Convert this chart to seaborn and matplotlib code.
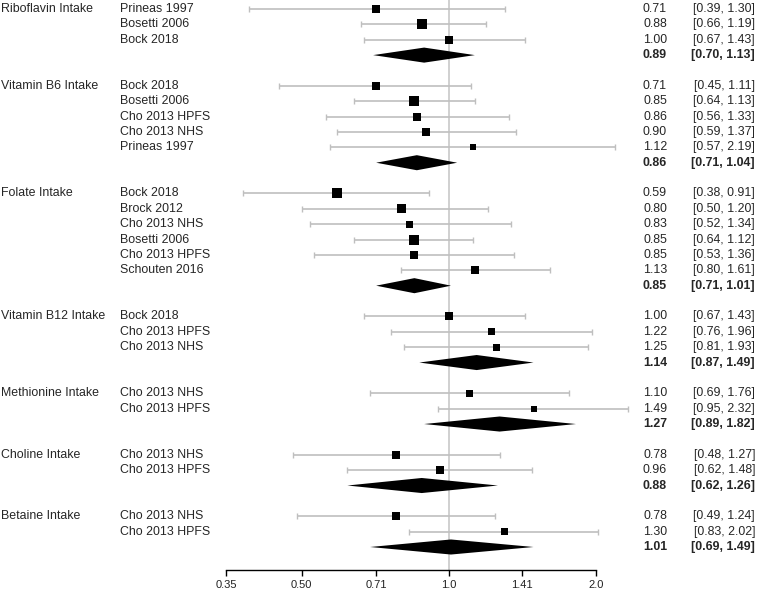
#!/usr/bin/env python3
"""Forest plot of B-vitamin / one-carbon nutrient intake and risk (log scale)."""

import numpy as np
import pandas as pd
import matplotlib
matplotlib.use("Agg")
import matplotlib.pyplot as plt
import matplotlib.transforms as mtransforms
import seaborn as sns

# ---- data ----
groups = [
    "Riboflavin Intake", "Vitamin B6 Intake", "Folate Intake", "Vitamin B12 Intake",
    "Methionine Intake", "Choline Intake", "Betaine Intake",
]
studies = [
    ["Prineas 1997", "Bosetti 2006", "Bock 2018"],
    ["Bock 2018", "Bosetti 2006", "Cho 2013 HPFS", "Cho 2013 NHS", "Prineas 1997"],
    ["Bock 2018", "Brock 2012", "Cho 2013 NHS", "Bosetti 2006", "Cho 2013 HPFS", "Schouten 2016"],
    ["Bock 2018", "Cho 2013 HPFS", "Cho 2013 NHS"],
    ["Cho 2013 NHS", "Cho 2013 HPFS"],
    ["Cho 2013 NHS", "Cho 2013 HPFS"],
    ["Cho 2013 NHS", "Cho 2013 HPFS"],
]
est = [
    [0.71, 0.88, 1.00],
    [0.71, 0.85, 0.86, 0.90, 1.12],
    [0.59, 0.80, 0.83, 0.85, 0.85, 1.13],
    [1.00, 1.22, 1.25],
    [1.10, 1.49],
    [0.78, 0.96],
    [0.78, 1.30],
]
ci_lo = [
    [0.39, 0.66, 0.67],
    [0.45, 0.64, 0.56, 0.59, 0.57],
    [0.38, 0.50, 0.52, 0.64, 0.53, 0.80],
    [0.67, 0.76, 0.81],
    [0.69, 0.95],
    [0.48, 0.62],
    [0.49, 0.83],
]
ci_hi = [
    [1.30, 1.19, 1.43],
    [1.11, 1.13, 1.33, 1.37, 2.19],
    [0.91, 1.20, 1.34, 1.12, 1.36, 1.61],
    [1.43, 1.96, 1.93],
    [1.76, 2.32],
    [1.27, 1.48],
    [1.24, 2.02],
]
# relative study weights (square side)
weights = [
    [8, 10, 8],
    [8, 10, 8, 8, 6],
    [10, 9, 7, 10, 8, 8],
    [8, 7, 7],
    [7, 6],
    [8, 8],
    [8, 7],
]
pooled_est = [0.89, 0.86, 0.85, 1.14, 1.27, 0.88, 1.01]
pooled_lo = [0.70, 0.71, 0.71, 0.87, 0.89, 0.62, 0.69]
pooled_hi = [1.13, 1.04, 1.01, 1.49, 1.82, 1.26, 1.49]
tick_vals = [0.35, 0.50, 0.71, 1.0, 1.41, 2.0]
tick_labels = ["0.35", "0.50", "0.71", "1.0", "1.41", "2.0"]

# ---- build row layout ----
rows = []
pooled_rows = []
r = 0
for g, (name, st) in enumerate(zip(groups, studies)):
    for i, s in enumerate(st):
        rows.append({"group": name if i == 0 else "", "study": s, "row": r,
                     "est": est[g][i], "lo": ci_lo[g][i], "hi": ci_hi[g][i],
                     "w": weights[g][i]})
        r += 1
    pooled_rows.append(r)
    r += 2
df = pd.DataFrame(rows)
pool = pd.DataFrame({"row": pooled_rows, "est": pooled_est, "lo": pooled_lo, "hi": pooled_hi})

sns.set_theme(style="white")
plt.rcParams["font.family"] = ["Liberation Sans", "DejaVu Sans"]

W, H = 757, 591
fig = plt.figure(figsize=(W / 100, H / 100), dpi=100)
ax_left, ax_right, ax_bottom = 226, 630, 570
ax = fig.add_axes([ax_left / W, 1 - ax_bottom / H, (ax_right - ax_left) / W, ax_bottom / H])
ax.set_xscale("log")
span = np.log(2.0) - np.log(0.35)
x_hi = np.exp(np.log(0.35) + span * (ax_right - ax_left) / (596 - 226))
ax.set_xlim(0.35, x_hi)
row_px = (547 - 9) / 35
ax.set_ylim((ax_bottom - 9) / row_px, -9 / row_px)

ax.axvline(1.0, color="#c8c8c8", lw=1.2, zorder=0)

ax.errorbar(df["est"], df["row"],
            xerr=[df["est"] - df["lo"], df["hi"] - df["est"]],
            fmt="none", ecolor="#bfbfbf", elinewidth=1.2, capsize=2, capthick=1, zorder=1)

df["area"] = (df["w"] * 0.72) ** 2
sns.scatterplot(data=df, x="est", y="row", size="area",
                sizes=(df["area"].min(), df["area"].max()),
                marker="s", color="black", edgecolor="black", linewidth=0,
                legend=False, ax=ax, zorder=3)

h = 0.49
for _, p in pool.iterrows():
    ax.fill([p["lo"], p["est"], p["hi"], p["est"]],
            [p["row"], p["row"] - h, p["row"], p["row"] + h],
            color="black", lw=0, zorder=3)

for side in ["top", "right", "left"]:
    ax.spines[side].set_visible(False)
ax.spines["bottom"].set_bounds(0.35, 2.0)
ax.spines["bottom"].set_color("black")
ax.spines["bottom"].set_linewidth(1.0)
ax.set_xticks(tick_vals)
ax.set_xticklabels(tick_labels)
ax.xaxis.set_minor_locator(matplotlib.ticker.NullLocator())
ax.tick_params(axis="x", bottom=True, length=4, width=1, color="black",
               labelsize=8, pad=3.5, labelcolor="#222222")
ax.set_yticks([])
ax.set_xlabel("")
ax.set_ylabel("")

# ---- text columns ----
tr = mtransforms.blended_transform_factory(fig.transFigure, ax.transData)
fs = 8.9
for _, d in df.iterrows():
    if d["group"]:
        ax.text(1 / W, d["row"], d["group"], transform=tr, ha="left", va="center", fontsize=fs)
    ax.text(120 / W, d["row"], d["study"], transform=tr, ha="left", va="center", fontsize=fs)
    ax.text(667 / W, d["row"], f"{d['est']:.2f}", transform=tr, ha="right", va="center", fontsize=fs)
    ax.text(755 / W, d["row"], f"[{d['lo']:.2f}, {d['hi']:.2f}]", transform=tr,
            ha="right", va="center", fontsize=fs)
for _, p in pool.iterrows():
    ax.text(667 / W, p["row"], f"{p['est']:.2f}", transform=tr, ha="right", va="center",
            fontsize=fs, fontweight="bold")
    ax.text(755 / W, p["row"], f"[{p['lo']:.2f}, {p['hi']:.2f}]", transform=tr,
            ha="right", va="center", fontsize=fs, fontweight="bold")

fig.savefig("out.png", dpi=100)
